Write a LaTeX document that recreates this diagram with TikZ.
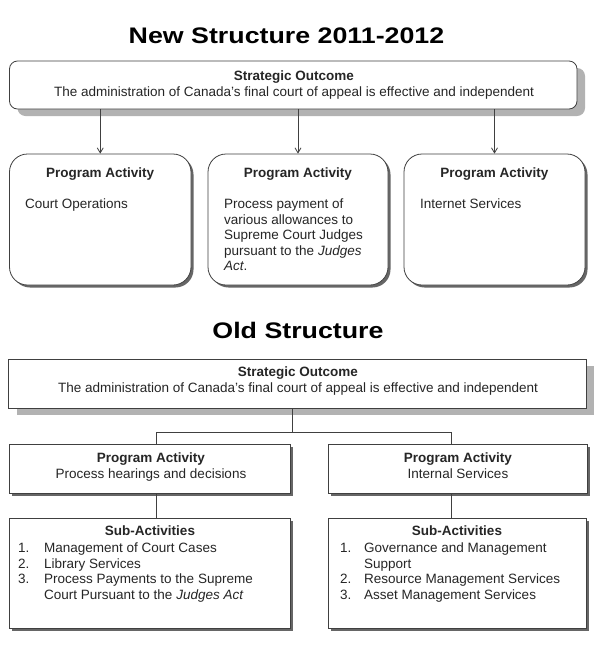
\documentclass[tikz,border=0pt]{standalone}
\usepackage{fontspec}
\setmainfont{Liberation Sans}
\usepackage{graphicx}
\usetikzlibrary{arrows.meta,shadows}
\begin{document}
\begin{tikzpicture}[x=1pt,y=-1pt,
  box/.style={draw=black!75, line width=0.8pt, fill=white, inner sep=0pt},
  bigshadow/.style={drop shadow={shadow xshift=8pt, shadow yshift=-7pt, fill=black!30, opacity=1}},
  smallshadow/.style={drop shadow={shadow xshift=2.5pt, shadow yshift=-2.5pt, fill=black!60, opacity=1}},
  txt/.style={font=\fontsize{13.5}{15.5}\selectfont, text=black!85, inner sep=0pt},
  btxt/.style={txt, font=\fontsize{13.5}{15.5}\selectfont\bfseries},
  ttl/.style={inner sep=0pt, text=black, anchor=base},
  conn/.style={draw=black!75, line width=0.8pt},
  arr/.style={conn, -{Straight Barb[length=5pt,width=6pt]}}
]
\useasboundingbox[fill=white] (0,0) rectangle (594,654);

% ---------- New structure ----------
\node[ttl] (tnew) at (286.5,43) {\scalebox{1.19}[1]{\fontsize{22.5}{27}\selectfont\bfseries New Structure 2011-2012}};

\node[box, bigshadow, rounded corners=8pt, minimum width=567.5pt, minimum height=48pt] (nso) at (293.25,85) {};
\node[btxt, anchor=base] (nsoh) at (294,80.5) {Strategic Outcome};
\node[txt, anchor=base] (nsot) at (294,96.8) {The administration of Canada's final court of appeal is effective and independent};

\node[box, smallshadow, rounded corners=18pt, minimum width=181.5pt, minimum height=131pt] (na1) at (100.25,219.5) {};
\node[box, smallshadow, rounded corners=18pt, minimum width=180pt, minimum height=131pt] (na2) at (298,219.5) {};
\node[box, smallshadow, rounded corners=18pt, minimum width=181pt, minimum height=131pt] (na3) at (494.5,219.5) {};

\draw[arr] (na1.north |- nso.south) -- (na1.north);
\draw[arr] (na2.north |- nso.south) -- (na2.north);
\draw[arr] (na3.north |- nso.south) -- (na3.north);

\node[btxt, anchor=base] (na1h) at (100.25,177.5) {Program Activity};
\node[btxt, anchor=base] (na2h) at (298,177.5) {Program Activity};
\node[btxt, anchor=base] (na3h) at (494.5,177.5) {Program Activity};

\node[txt, anchor=base west] (na1t) at (25,208.5) {Court Operations};
\node[txt, anchor=base west] (na2a) at (224,208.5) {Process payment of};
\node[txt, anchor=base west] (na2b) at (224,224) {various allowances to};
\node[txt, anchor=base west] (na2c) at (224,239.5) {Supreme Court Judges};
\node[txt, anchor=base west] (na2d) at (224,255) {pursuant to the \textit{Judges}};
\node[txt, anchor=base west] (na2e) at (224,270.5) {\textit{Act}.};
\node[txt, anchor=base west] (na3t) at (420,208.5) {Internet Services};

% ---------- Old structure ----------
\node[ttl] (told) at (298,338) {\scalebox{1.19}[1]{\fontsize{22.5}{27}\selectfont\bfseries Old Structure}};

\node[box, bigshadow, minimum width=577.5pt, minimum height=49pt] (oso) at (297.25,383.5) {};
\node[btxt, anchor=base] (osoh) at (298,376) {Strategic Outcome};
\node[txt, anchor=base] (osot) at (298,392) {The administration of Canada's final court of appeal is effective and independent};

\node[box, smallshadow, minimum width=281pt, minimum height=49pt] (opa1) at (149.5,468.5) {};
\node[box, smallshadow, minimum width=259pt, minimum height=49pt] (opa2) at (457.5,468.5) {};
\node[box, smallshadow, minimum width=281pt, minimum height=110pt] (osa1) at (149.5,573) {};
\node[box, smallshadow, minimum width=258pt, minimum height=110pt] (osa2) at (457,573) {};

\coordinate (jn) at (292,432);
\coordinate (cl) at (156,432);
\coordinate (cr) at (451,432);
\draw[conn] (oso.south -| jn) -- (jn);
\draw[conn] (cl |- opa1.north) -- (cl) -- (cr) -- (cr |- opa2.north);
\draw[conn] (cl |- opa1.south) -- (cl |- osa1.north);
\draw[conn] (cr |- opa2.south) -- (cr |- osa2.north);

\node[btxt, anchor=base] (opa1h) at (151,462) {Program Activity};
\node[txt, anchor=base] (opa1t) at (151,478.5) {Process hearings and decisions};
\node[btxt, anchor=base] (opa2h) at (458,462) {Program Activity};
\node[txt, anchor=base] (opa2t) at (458,478.5) {Internal Services};

\node[btxt, anchor=base] (osa1h) at (150,535) {Sub-Activities};
\node[txt, anchor=base west] (l1n) at (18,552) {1.};
\node[txt, anchor=base west] (l1t) at (44,552) {Management of Court Cases};
\node[txt, anchor=base west] (l2n) at (18,568) {2.};
\node[txt, anchor=base west] (l2t) at (44,568) {Library Services};
\node[txt, anchor=base west] (l3n) at (18,583.5) {3.};
\node[txt, anchor=base west] (l3t) at (44,583.5) {Process Payments to the Supreme};
\node[txt, anchor=base west] (l3u) at (44,599.5) {Court Pursuant to the \textit{Judges Act}};

\node[btxt, anchor=base] (osa2h) at (457,535) {Sub-Activities};
\node[txt, anchor=base west] (r1n) at (340,552) {1.};
\node[txt, anchor=base west] (r1t) at (364,552) {Governance and Management};
\node[txt, anchor=base west] (r1u) at (364,568) {Support};
\node[txt, anchor=base west] (r2n) at (340,583.5) {2.};
\node[txt, anchor=base west] (r2t) at (364,583.5) {Resource Management Services};
\node[txt, anchor=base west] (r3n) at (340,599.5) {3.};
\node[txt, anchor=base west] (r3t) at (364,599.5) {Asset Management Services};
\end{tikzpicture}
\end{document}
